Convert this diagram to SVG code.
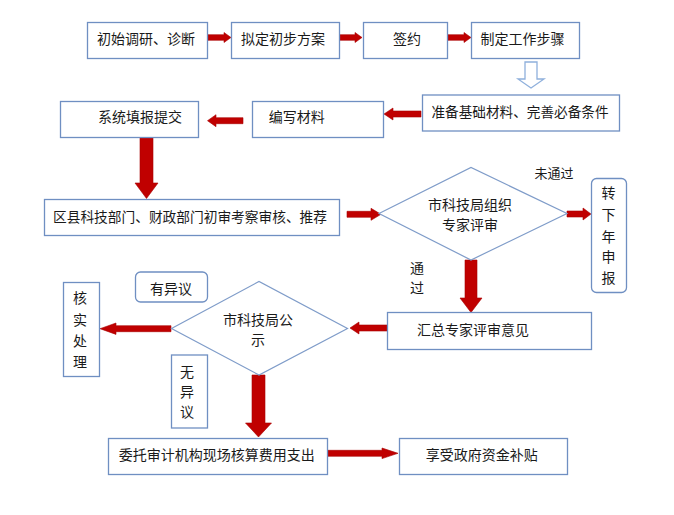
<svg xmlns="http://www.w3.org/2000/svg" width="674" height="515" viewBox="0 0 674 515">
<style>
  .box { fill: #ffffff; stroke: #6f8fc2; stroke-width: 1.3; }
  .dia { fill: #ffffff; stroke: #7f9cc9; stroke-width: 1.2; }
  .arr { fill: #c00000; stroke: #a80000; stroke-width: 0.6; }
  .hol { fill: #ffffff; stroke: #8fb0dc; stroke-width: 1.3; }
  text { font-family: "Noto Sans CJK SC", "Noto Sans", sans-serif; font-size: 14px; fill: #1a1a1a; text-anchor: middle; }
  .sm { font-size: 13px; }
</style>
<rect width="674" height="515" fill="#ffffff"/>

<g id="connectors">
  <polygon class="arr" points="208,34.7 224,34.7 224,32.5 231,37.5 224,42.5 224,40.3 208,40.3"/>
  <polygon class="arr" points="339,34.7 355,34.7 355,32.5 362,37.5 355,42.5 355,40.3 339,40.3"/>
  <polygon class="arr" points="448,34.7 464,34.7 464,32.5 471,37.5 464,42.5 464,40.3 448,40.3"/>
  <polygon class="hol" points="525,62 537,62 537,79 544,79 531,88 518,79 525,79"/>
  <polygon class="arr" points="421,111 393,111 393,108 384,114 393,120 393,117 421,117"/>
  <polygon class="arr" points="243,117.7 216,117.7 216,114.7 207.5,120.7 216,126.7 216,123.7 243,123.7"/>
  <polygon class="arr" points="140,137.5 153,137.5 153,183 158,183 146.5,198.5 135,183 140,183"/>
  <polygon class="arr" points="347,211.3 371,211.3 371,208.3 381,214.3 371,220.3 371,217.3 347,217.3"/>
  <polygon class="arr" points="567,211 583,211 583,208 591,214 583,220 583,217 567,217"/>
  <polygon class="arr" points="465,260 477,260 477,298 482,298 471,312.5 460,298 465,298"/>
  <polygon class="arr" points="387,325 359,325 359,322 350,328 359,334 359,331 387,331"/>
  <polygon class="arr" points="171,325.7 116,325.7 116,323 100,328.7 116,334.4 116,331.7 171,331.7"/>
  <polygon class="arr" points="252,375 265,375 265,423 271.5,423 258.5,437 245.5,423 252,423"/>
  <polygon class="arr" points="328,450.3 382,450.3 382,448 398,453.3 382,458.6 382,456.3 328,456.3"/>
</g>

<g id="n1"><rect class="box" x="87.5" y="22.5" width="120" height="36"/><text x="146" y="43.5">初始调研、诊断</text></g>
<g id="n2"><rect class="box" x="231.5" y="22.5" width="108" height="36"/><text x="283" y="43.5">拟定初步方案</text></g>
<g id="n3"><rect class="box" x="363.5" y="22.5" width="84" height="36"/><text x="407" y="43.5">签约</text></g>
<g id="n4"><rect class="box" x="471.5" y="22.5" width="108" height="36"/><text x="522.5" y="43.5">制定工作步骤</text></g>
<g id="n5"><rect class="box" x="422.5" y="95" width="197" height="36"/><text x="520" y="117" textLength="177" lengthAdjust="spacingAndGlyphs">准备基础材料、完善必备条件</text></g>
<g id="n6"><rect class="box" x="252.5" y="101.5" width="131" height="36"/><text x="296.7" y="122">编写材料</text></g>
<g id="n7"><rect class="box" x="60.5" y="101.5" width="138" height="36"/><text x="140" y="121.7">系统填报提交</text></g>
<g id="n8"><rect class="box" x="44.5" y="199.5" width="295" height="36"/><text x="190" y="221.7" textLength="274" lengthAdjust="spacingAndGlyphs">区县科技部门、财政部门初审考察审核、推荐</text></g>
<g id="n9"><polygon class="dia" points="379,213.5 471,167.5 567,213.5 471,260"/><text x="470" y="210">市科技局组织</text><text x="470" y="230">专家评审</text></g>
<g id="n10"><rect class="box" x="591.5" y="178.5" width="35" height="114" rx="5"/>
  <text x="608.5" y="198">转</text><text x="608.5" y="220">下</text><text x="608.5" y="241.7">年</text><text x="608.5" y="262.3">申</text><text x="608.5" y="283.3">报</text></g>
<g id="l1"><text class="sm" x="554" y="178">未通过</text></g>
<g id="l2"><text x="417" y="273">通</text><text x="417" y="293">过</text></g>
<g id="n11"><rect class="box" x="387.5" y="312.5" width="204" height="37"/><text x="473" y="335">汇总专家评审意见</text></g>
<g id="n12"><polygon class="dia" points="171.5,328.5 259,281.5 347.5,328.5 259,375"/><text x="258" y="325">市科技局公</text><text x="258" y="345">示</text></g>
<g id="n13"><rect class="box" x="63.5" y="282.5" width="36" height="94"/>
  <text x="80" y="303.3">核</text><text x="80" y="325">实</text><text x="80" y="346">处</text><text x="80" y="366.7">理</text></g>
<g id="n14"><rect class="box" x="135.5" y="272" width="72" height="30" rx="5"/><text x="171" y="294">有异议</text></g>
<g id="n15"><rect class="box" x="171.5" y="355" width="36" height="73"/>
  <text x="187" y="377">无</text><text x="187" y="397">异</text><text x="187" y="417">议</text></g>
<g id="n16"><rect class="box" x="108.5" y="438.5" width="219" height="36"/><text x="216.7" y="460">委托审计机构现场核算费用支出</text></g>
<g id="n17"><rect class="box" x="399.5" y="438.5" width="168" height="36"/><text x="481.7" y="460">享受政府资金补贴</text></g>
</svg>
